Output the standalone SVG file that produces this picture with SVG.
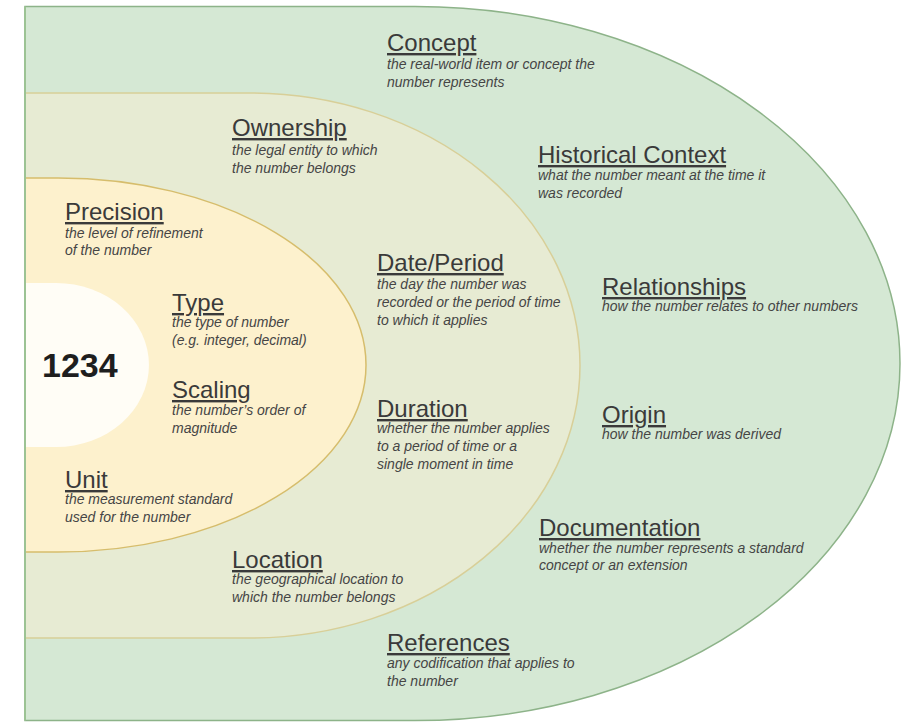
<svg xmlns="http://www.w3.org/2000/svg" width="907" height="724" viewBox="0 0 907 724">
<style>
.t{font-family:"Liberation Sans",Arial,sans-serif;font-size:24px;fill:#3a3a3a;text-decoration:underline}
.d{font-family:"Liberation Sans",Arial,sans-serif;font-size:14px;font-style:italic;fill:#454545}
.n{font-family:"Liberation Sans",Arial,sans-serif;font-size:34px;font-weight:bold;fill:#1e1e1e}
</style>
<rect width="907" height="724" fill="#ffffff"/>
<g id="rings">
<path id="outer" d="M25,6.5 H415 A485,357 0 0 1 415,720.5 H25 Z" fill="#d5e8d4" stroke="#8db389" stroke-width="1.5"/>
<path id="middle" d="M25,93 H250 A330,272.5 0 0 1 250,638 H25 Z" fill="#e7ebd3" stroke="#d8cf98" stroke-width="1.5"/>
<path id="inner" d="M25,178 H58 A308,187 0 0 1 58,552 H25 Z" fill="#fdf1cd" stroke="#d6bd6c" stroke-width="1.5"/>
<path id="core" d="M25,283 H56 A93,82 0 0 1 56,447 H25 Z" fill="#fffdf6"/>
<line x1="25" y1="6.5" x2="25" y2="720.5" stroke="#9cc394" stroke-width="2"/>
</g>
<g id="number"><text class="n" x="42" y="377">1234</text></g>
<g id="concept"><text class="t" x="387" y="51">Concept</text>
<text class="d" x="387" y="69">the real-world item or concept the</text><text class="d" x="387" y="87">number represents</text></g>
<g id="ownership"><text class="t" x="232" y="136">Ownership</text>
<text class="d" x="232" y="155">the legal entity to which</text><text class="d" x="232" y="173">the number belongs</text></g>
<g id="historical"><text class="t" x="538" y="163">Historical Context</text>
<text class="d" x="538" y="180">what the number meant at the time it</text><text class="d" x="538" y="198">was recorded</text></g>
<g id="precision"><text class="t" x="65" y="220">Precision</text>
<text class="d" x="65" y="238">the level of refinement</text><text class="d" x="65" y="255">of the number</text></g>
<g id="dateperiod"><text class="t" x="377" y="271">Date/Period</text>
<text class="d" x="377" y="289">the day the number was</text><text class="d" x="377" y="307">recorded or the period of time</text><text class="d" x="377" y="325">to which it applies</text></g>
<g id="relationships"><text class="t" x="602" y="295">Relationships</text>
<text class="d" x="602" y="311">how the number relates to other numbers</text></g>
<g id="type"><text class="t" x="172" y="311">Type</text>
<text class="d" x="172" y="327">the type of number</text><text class="d" x="172" y="345">(e.g. integer, decimal)</text></g>
<g id="scaling"><text class="t" x="172" y="398">Scaling</text>
<text class="d" x="172" y="415">the number’s order of</text><text class="d" x="172" y="433">magnitude</text></g>
<g id="duration"><text class="t" x="377" y="417">Duration</text>
<text class="d" x="377" y="433">whether the number applies</text><text class="d" x="377" y="451">to a period of time or a</text><text class="d" x="377" y="469">single moment in time</text></g>
<g id="origin"><text class="t" x="602" y="423">Origin</text>
<text class="d" x="602" y="439">how the number was derived</text></g>
<g id="unit"><text class="t" x="65" y="488">Unit</text>
<text class="d" x="65" y="504">the measurement standard</text><text class="d" x="65" y="522">used for the number</text></g>
<g id="documentation"><text class="t" x="539" y="536">Documentation</text>
<text class="d" x="539" y="553">whether the number represents a standard</text><text class="d" x="539" y="570">concept or an extension</text></g>
<g id="location"><text class="t" x="232" y="568">Location</text>
<text class="d" x="232" y="584">the geographical location to</text><text class="d" x="232" y="602">which the number belongs</text></g>
<g id="references"><text class="t" x="387" y="651">References</text>
<text class="d" x="387" y="668">any codification that applies to</text><text class="d" x="387" y="686">the number</text></g>
</svg>
